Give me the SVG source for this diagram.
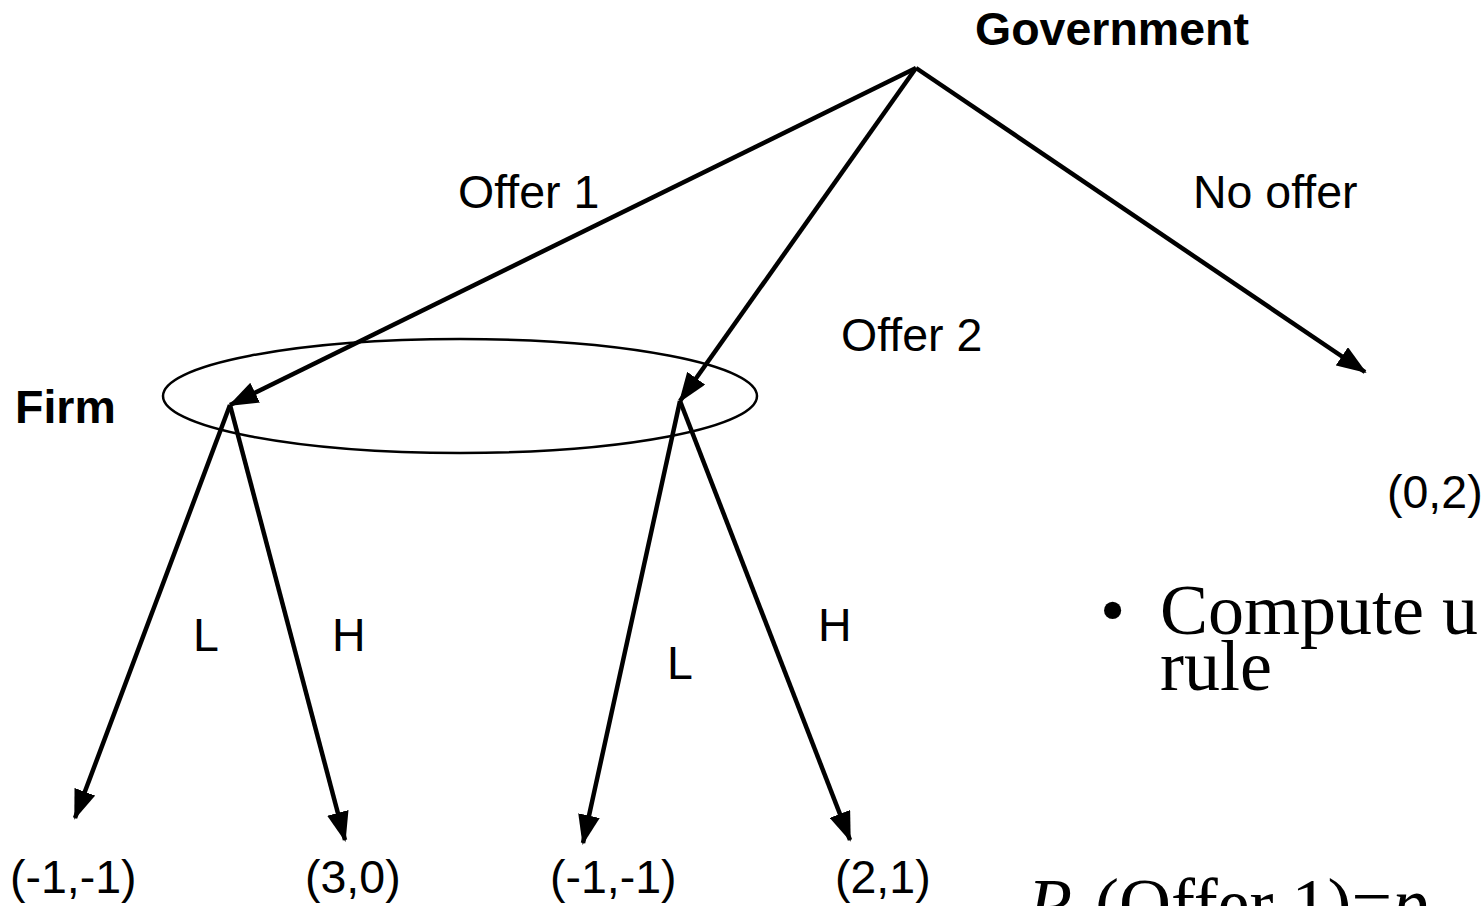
<svg xmlns="http://www.w3.org/2000/svg" width="1484" height="906" viewBox="0 0 1484 906">
<defs>
<style>
.lbl{font-family:"Liberation Sans",Arial,sans-serif;font-size:46.5px;fill:#000}
.bold{font-weight:bold}
.tnr{font-family:"Liberation Serif","Times New Roman",serif;font-size:72px;fill:#000}
.edge{stroke:#000;stroke-width:4.5;fill:none;marker-end:url(#ah)}
</style>
<marker id="ah" markerUnits="userSpaceOnUse" markerWidth="30" markerHeight="22" viewBox="0 0 30 22" refX="28" refY="11" orient="auto">
<path d="M0,0 L30,11 L0,22 Z" fill="#000"/>
</marker>
</defs>
<rect width="1484" height="906" fill="#fff"/>
<g id="infoset">
<ellipse cx="460" cy="396" rx="297" ry="57" fill="none" stroke="#000" stroke-width="2.5"/>
</g>
<g id="connectors">
<line class="edge" x1="916" y1="68" x2="230" y2="405"/>
<line class="edge" x1="916" y1="68" x2="680" y2="401"/>
<line class="edge" x1="916" y1="68" x2="1365" y2="372"/>
<line class="edge" x1="230" y1="405" x2="75" y2="818"/>
<line class="edge" x1="230" y1="405" x2="345" y2="840"/>
<line class="edge" x1="680" y1="401" x2="583" y2="843"/>
<line class="edge" x1="680" y1="401" x2="850" y2="840"/>
</g>
<g id="node-government"><text class="lbl bold" x="975" y="45">Government</text></g>
<g id="node-firm"><text class="lbl bold" x="15" y="423">Firm</text></g>
<g id="edge-labels">
<text class="lbl" x="458" y="208">Offer 1</text>
<text class="lbl" x="1193" y="208">No offer</text>
<text class="lbl" x="841" y="351">Offer 2</text>
<text class="lbl" x="193" y="651">L</text>
<text class="lbl" x="332" y="651">H</text>
<text class="lbl" x="667" y="679">L</text>
<text class="lbl" x="818" y="641">H</text>
</g>
<g id="payoffs">
<text class="lbl" x="1387" y="508">(0,2)</text>
<text class="lbl" x="10" y="893">(-1,-1)</text>
<text class="lbl" x="305" y="893">(3,0)</text>
<text class="lbl" x="550" y="893">(-1,-1)</text>
<text class="lbl" x="835" y="893">(2,1)</text>
</g>
<g id="notes">
<text class="tnr" x="1100" y="634">•</text>
<text class="tnr" x="1160" y="634">Compute u</text>
<text class="tnr" x="1160" y="690">rule</text>
<text class="tnr" x="1028" y="928"><tspan font-style="italic">P</tspan><tspan font-size="46" dy="14">1</tspan><tspan dy="-14">(Offer 1)=</tspan><tspan font-style="italic">p</tspan></text>
</g>
</svg>
